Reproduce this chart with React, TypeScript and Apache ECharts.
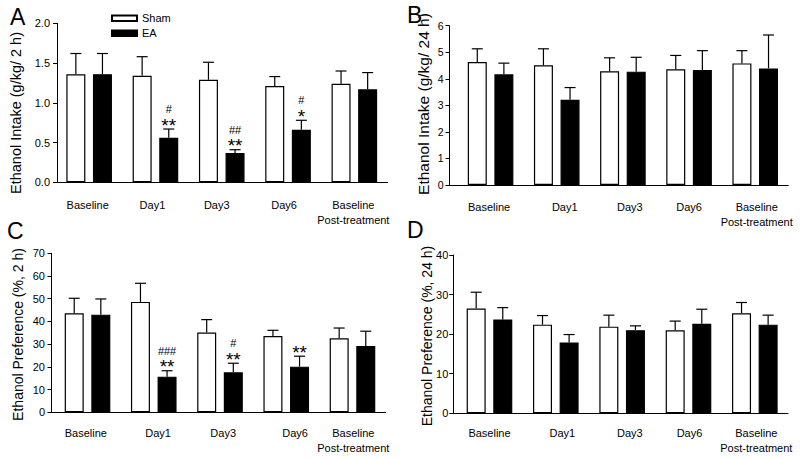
import React, { useEffect, useRef } from "react";
import * as echarts from "echarts";

const categories = ["Baseline", "Day1", "Day3", "Day6", "Baseline\nPost-treatment"];

// Panel A: Ethanol intake (g/kg/2 h)
const shamA = [1.36, 1.34, 1.29, 1.21, 1.24];
const shamASem = [0.26, 0.24, 0.22, 0.12, 0.16];
const eaA = [1.36, 0.56, 0.37, 0.66, 1.17];
const eaASem = [0.26, 0.11, 0.04, 0.12, 0.21];
const starsA = ["", "**", "**", "*", ""];
const hashA = ["", "#", "##", "#", ""];

// Panel B: Ethanol intake (g/kg/24 h)
const shamB = [4.63, 4.51, 4.28, 4.36, 4.58];
const shamBSem = [0.5, 0.62, 0.51, 0.52, 0.48];
const eaB = [4.17, 3.21, 4.27, 4.33, 4.39];
const eaBSem = [0.42, 0.46, 0.54, 0.73, 1.26];
const ticksB = [0, 1, 2, 3, 4, 5, 6];

// Panel C: Ethanol preference (%, 2 h)
const shamC = [43.6, 48.6, 35.1, 33.6, 32.6];
const shamCSem = [6.6, 8.2, 5.7, 2.5, 4.5];
const eaC = [43.0, 15.7, 17.6, 20.1, 29.2];
const eaCSem = [6.9, 2.6, 4.0, 4.6, 6.5];
const starsC = ["", "**", "**", "**", ""];
const hashC = ["", "###", "#", "", ""];

// Panel D: Ethanol preference (%, 24 h)
const shamD = [26.5, 22.4, 21.9, 21.0, 25.3];
const shamDSem = [4.1, 2.3, 2.9, 2.3, 2.7];
const eaD = [23.7, 17.9, 21.0, 22.6, 22.4];
const eaDSem = [3.0, 2.0, 1.1, 3.7, 2.4];

const FONT = "Liberation Sans";
const BAR_W = 19;
const BAR_GAP = 0.4;
const HALF_SEP = (BAR_W + BAR_W * BAR_GAP) / 2;

type Panel = {
  letter: string;
  title: string;
  titleSize: number;
  titleX: number;
  titleY: number;
  letterX: number;
  letterY: number;
  grid: { left: number; right: number; top: number; height: number };
  axisX: number;
  yMax: number;
  yInterval: number;
  yDecimals: number;
  tickFont: number;
  tickMargin: number;
  catMargin: number;
  labelShift: number[];
  sham: number[];
  shamSem: number[];
  ea: number[];
  eaSem: number[];
  stars?: string[];
  hashes?: string[];
  tickValues?: number[];
};

const panels: Panel[] = [
  {
    letter: "A", title: "Ethanol Intake (g/kg/ 2 h)", titleSize: 14.5, titleX: 16, titleY: 113,
    letterX: 10, letterY: 16.5,
    grid: { left: 56, right: 412.5, top: 23.3, height: 159 }, axisX: 57,
    yMax: 2, yInterval: 0.5, yDecimals: 1, tickFont: 11, tickMargin: 7, catMargin: 15,
    labelShift: [-1.5, -3, -5, -4, -1],
    sham: shamA, shamSem: shamASem, ea: eaA, eaSem: eaASem, stars: starsA, hashes: hashA,
  },
  {
    letter: "B", title: "Ethanol Intake (g/kg/ 24 h)", titleSize: 15.5, titleX: 423, titleY: 104,
    letterX: 407, letterY: 14.5,
    grid: { left: 457.5, right: 11.7, top: 25.7, height: 159.3 }, axisX: 449.5,
    yMax: 6, yInterval: 1, yDecimals: 0, tickFont: 10.5, tickMargin: 6, catMargin: 14,
    labelShift: [-1.5, 8, 7, 0, 1.5],
    sham: shamB, shamSem: shamBSem, ea: eaB, eaSem: eaBSem, tickValues: ticksB,
  },
  {
    letter: "C", title: "Ethanol Preference (%, 2 h)", titleSize: 14, titleX: 18, titleY: 334.5,
    letterX: 7, letterY: 231,
    grid: { left: 54.4, right: 414.4, top: 253.3, height: 159 }, axisX: 51.5,
    yMax: 70, yInterval: 10, yDecimals: 0, tickFont: 11, tickMargin: 6.5, catMargin: 13,
    labelShift: [-1.7, 4.3, 3.2, 8.8, 0.8],
    sham: shamC, shamSem: shamCSem, ea: eaC, eaSem: eaCSem, stars: starsC, hashes: hashC,
  },
  {
    letter: "D", title: "Ethanol Preference (%, 24 h)", titleSize: 14, titleX: 427, titleY: 336,
    letterX: 407, letterY: 230,
    grid: { left: 456.3, right: 12, top: 255, height: 158.3 }, axisX: 453.3,
    yMax: 40, yInterval: 10, yDecimals: 0, tickFont: 11, tickMargin: 5, catMargin: 12,
    labelShift: [0, 6.5, 7.7, 1, 1.5],
    sham: shamD, shamSem: shamDSem, ea: eaD, eaSem: eaDSem,
  },
];

function errorRender(offset: number) {
  return (params: any, api: any) => {
    const i = api.value(0);
    const m = api.value(1);
    const u = api.value(2);
    const p0 = api.coord([i, m]);
    const p1 = api.coord([i, u]);
    const x = p0[0] + offset;
    return {
      type: "group",
      children: [
        { type: "line", shape: { x1: x, y1: p0[1], x2: x, y2: p1[1] }, style: { stroke: "#000", lineWidth: 1.2 } },
        { type: "line", shape: { x1: x - 5.5, y1: p1[1], x2: x + 5.5, y2: p1[1] }, style: { stroke: "#000", lineWidth: 1.2 } },
      ],
    };
  };
}

function annotRender(stars: string[], hashes: string[]) {
  return (params: any, api: any) => {
    const i = api.value(0);
    const u = api.value(1);
    const p = api.coord([i, u]);
    const x = p[0] + HALF_SEP;
    const children: any[] = [];
    if (stars[i]) {
      children.push({
        type: "text", x, y: p[1] - 4,
        style: { text: stars[i], fill: "#000", font: `19px ${FONT}`, align: "center", verticalAlign: "middle" },
      });
    }
    if (hashes[i]) {
      children.push({
        type: "text", x, y: p[1] - 20,
        style: { text: hashes[i], fill: "#000", font: `11px ${FONT}`, align: "center", verticalAlign: "middle" },
      });
    }
    return { type: "group", children };
  };
}

function tickLabelRender(p: Panel) {
  return (params: any, api: any) => {
    const v = api.value(1);
    const pt = api.coord([0, v]);
    const half = api.size([1, 0])[0] / 2;
    return {
      type: "text",
      x: pt[0] - half - p.tickMargin,
      y: pt[1],
      style: {
        text: Number(v).toFixed(p.yDecimals), fill: "#000", font: `${p.tickFont}px ${FONT}`,
        align: "right", verticalAlign: "middle",
      },
    };
  };
}

function buildOption() {
  const grids: any[] = [];
  const xAxes: any[] = [];
  const yAxes: any[] = [];
  const series: any[] = [];
  const graphics: any[] = [];
  const n = panels.length;

  panels.forEach((p, k) => {
    grids.push({ left: p.grid.left, right: p.grid.right, top: p.grid.top, height: p.grid.height, containLabel: false });
    const rich: any = {};
    p.labelShift.forEach((dx, i) => {
      rich["p" + i] = {
        fontFamily: FONT, fontSize: 11, color: "#000", lineHeight: 15,
        padding: [0, dx < 0 ? -2 * dx : 0, 0, dx > 0 ? 2 * dx : 0],
      };
    });
    xAxes.push({
      type: "category", gridIndex: k, data: categories,
      axisTick: { show: false },
      axisLine: { show: false },
      axisLabel: {
        margin: p.catMargin, interval: 0,
        formatter: (v: string, i: number) => v.split("\n").map((l) => `{p${i}|${l}}`).join("\n"),
        rich,
      },
    });
    yAxes.push({
      type: "value", gridIndex: k, min: 0, max: p.yMax, interval: p.yInterval,
      axisLine: { show: false }, axisTick: { show: false }, axisLabel: { show: false },
      splitLine: { show: false },
    });
  });

  panels.forEach((p, k) => {
    const gi = n + k;
    grids.push({ left: p.axisX, right: p.grid.right, top: p.grid.top, height: p.grid.height, containLabel: false });
    xAxes.push({
      type: "category", gridIndex: gi, data: [""],
      axisTick: { show: false }, axisLabel: { show: false },
      axisLine: { show: true, onZero: false, lineStyle: { color: "#000", width: 1 } },
    });
    yAxes.push({
      type: "value", gridIndex: gi, min: 0, max: p.yMax, interval: p.yInterval,
      axisLine: { show: true, onZero: false, lineStyle: { color: "#000", width: 1 } },
      axisTick: { show: true, length: 4, lineStyle: { color: "#000", width: 1 } },
      splitLine: { show: false },
      axisLabel: {
        show: !p.tickValues,
        fontFamily: FONT, fontSize: p.tickFont, color: "#000", margin: p.tickMargin,
        showMinLabel: true, showMaxLabel: true,
        formatter: (v: number) => v.toFixed(p.yDecimals),
      },
    });
    if (p.tickValues) {
      series.push({
        type: "custom", xAxisIndex: gi, yAxisIndex: gi, z: 10, clip: false,
        renderItem: tickLabelRender(p),
        data: p.tickValues.map((v) => [0, v]),
      });
    }
  });

  panels.forEach((p, k) => {
    series.push({
      name: "Sham", type: "bar", xAxisIndex: k, yAxisIndex: k, data: p.sham,
      barWidth: BAR_W, barGap: BAR_GAP * 100 + "%",
      itemStyle: { color: "#fff", borderColor: "#000", borderWidth: 1.2 },
    });
    series.push({
      name: "EA", type: "bar", xAxisIndex: k, yAxisIndex: k, data: p.ea,
      barWidth: BAR_W, barGap: BAR_GAP * 100 + "%",
      itemStyle: { color: "#000", borderColor: "#000", borderWidth: 1.2 },
    });
    series.push({
      type: "custom", xAxisIndex: k, yAxisIndex: k, z: 3,
      renderItem: errorRender(-HALF_SEP),
      data: p.sham.map((v, i) => [i, v, v + p.shamSem[i]]),
    });
    series.push({
      type: "custom", xAxisIndex: k, yAxisIndex: k, z: 3,
      renderItem: errorRender(HALF_SEP),
      data: p.ea.map((v, i) => [i, v, v + p.eaSem[i]]),
    });
    if (p.stars && p.hashes) {
      series.push({
        type: "custom", xAxisIndex: k, yAxisIndex: k, z: 4,
        renderItem: annotRender(p.stars, p.hashes),
        data: p.ea.map((v, i) => [i, v + p.eaSem[i]]),
      });
    }
    graphics.push({
      type: "text", x: p.titleX, y: p.titleY, rotation: Math.PI / 2,
      style: { text: p.title, fill: "#000", font: `${p.titleSize}px ${FONT}`, align: "center", verticalAlign: "middle" },
    });
    graphics.push({
      type: "text", x: p.letterX, y: p.letterY,
      style: { text: p.letter, fill: "#000", font: `23px ${FONT}`, align: "left", verticalAlign: "middle" },
    });
  });

  return {
    animation: false,
    textStyle: { fontFamily: FONT },
    legend: {
      data: ["Sham", "EA"],
      orient: "vertical",
      left: 106,
      top: 7.3,
      itemWidth: 25,
      itemHeight: 5.5,
      itemGap: 3,
      icon: "rect",
      textStyle: { fontFamily: FONT, fontSize: 11, color: "#000", lineHeight: 12 },
    },
    grid: grids,
    xAxis: xAxes,
    yAxis: yAxes,
    series,
    graphic: graphics,
  };
}

export default function App() {
  const ref = useRef<HTMLDivElement>(null);
  useEffect(() => {
    if (!ref.current) return;
    const chart = echarts.init(ref.current, undefined, { renderer: "svg" });
    chart.setOption(buildOption() as any);
    return () => chart.dispose();
  }, []);
  return (
    <div
      ref={ref}
      style={{ position: "absolute", left: 0, top: 0, width: 800, height: 459, background: "#fff" }}
    />
  );
}
